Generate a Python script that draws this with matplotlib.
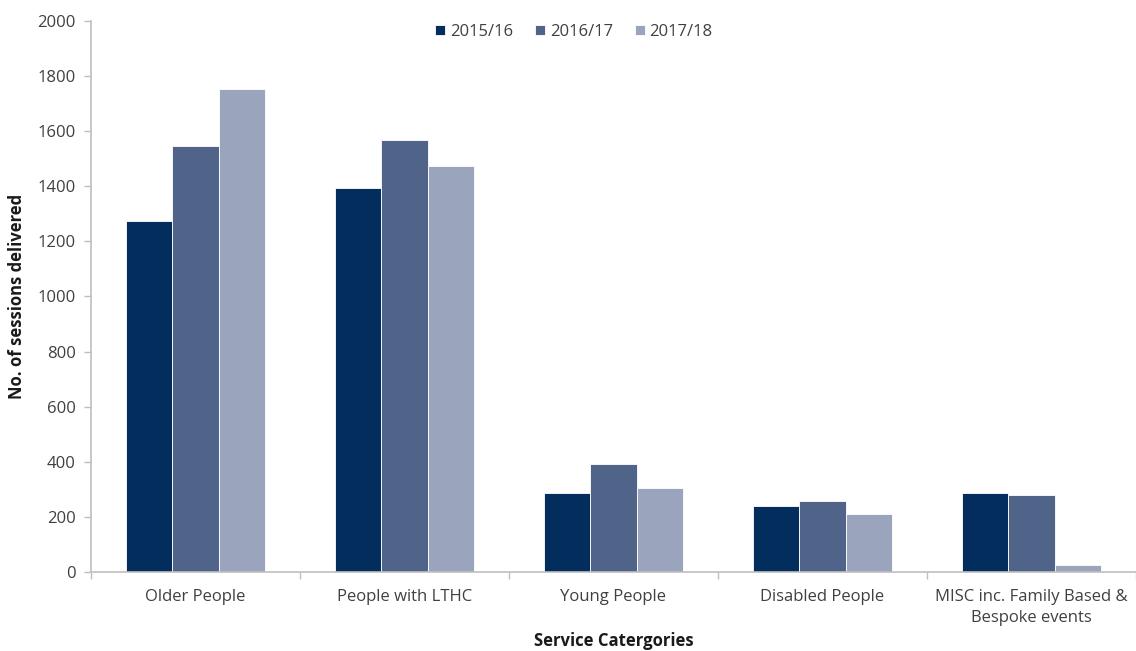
import numpy as np
import matplotlib
matplotlib.use("Agg")
import matplotlib.pyplot as plt
from matplotlib.ticker import FixedLocator, NullFormatter

plt.rcParams['font.family'] = ['Open Sans', 'DejaVu Sans']

categories = ["Older People", "People with LTHC", "Young People",
              "Disabled People", "MISC inc. Family Based &\nBespoke events"]
years = ["2015/16", "2016/17", "2017/18"]
sessions_1516 = [1274, 1395, 285, 238, 287]
sessions_1617 = [1548, 1568, 392, 257, 281]
sessions_1718 = [1754, 1472, 304, 210, 27]
colors = ["#032D5C", "#50648A", "#9AA4BD"]


def main():
    fig = plt.figure(figsize=(11.36, 6.51), dpi=100)
    ax = fig.add_axes([0.0801, 0.1214, 0.9199, 0.8463])

    x = np.arange(len(categories))
    width = 0.2225
    series = [sessions_1516, sessions_1617, sessions_1718]
    for i, (vals, lab, col) in enumerate(zip(series, years, colors)):
        ax.bar(x + (i - 1) * width, vals, width, color=col, label=lab,
               edgecolor="white", linewidth=0.6, zorder=2)

    ax.set_xlim(-0.5, len(categories) - 0.5)
    ax.set_ylim(0, 2000)
    ax.set_yticks(range(0, 2001, 200))

    # category labels in the middle, ticks on the boundaries
    ax.set_xticks(x)
    ax.set_xticklabels(categories, fontsize=12, color="#404040",
                       linespacing=1.45)
    ax.tick_params(axis="x", which="major", length=0, pad=12)
    ax.xaxis.set_minor_locator(FixedLocator(np.arange(-0.5, len(categories), 1)))
    ax.xaxis.set_minor_formatter(NullFormatter())
    ax.tick_params(axis="x", which="minor", length=5, color="#BFBFBF", width=1)
    ax.tick_params(axis="y", length=5, color="#BFBFBF", width=1,
                   labelsize=12, labelcolor="#404040", pad=6)

    for s in ["top", "right"]:
        ax.spines[s].set_visible(False)
    for s in ["left", "bottom"]:
        ax.spines[s].set_color("#BFBFBF")
        ax.spines[s].set_linewidth(1.2)

    ax.set_ylabel("No. of sessions delivered", fontsize=12, fontweight="bold",
                  color="#1a1a1a", labelpad=8)
    fig.text(0.54, 0.0015, "Service Catergories", fontsize=12,
             fontweight="bold", color="#1a1a1a", ha="center", va="bottom")

    ax.legend(loc="upper center", bbox_to_anchor=(0.462, 1.022), ncol=3,
              frameon=False, fontsize=12, handlelength=0.6, handleheight=0.6,
              handletextpad=0.3, columnspacing=1.3, labelcolor="#404040")

    fig.savefig("out.png", dpi=100)


if __name__ == "__main__":
    main()
